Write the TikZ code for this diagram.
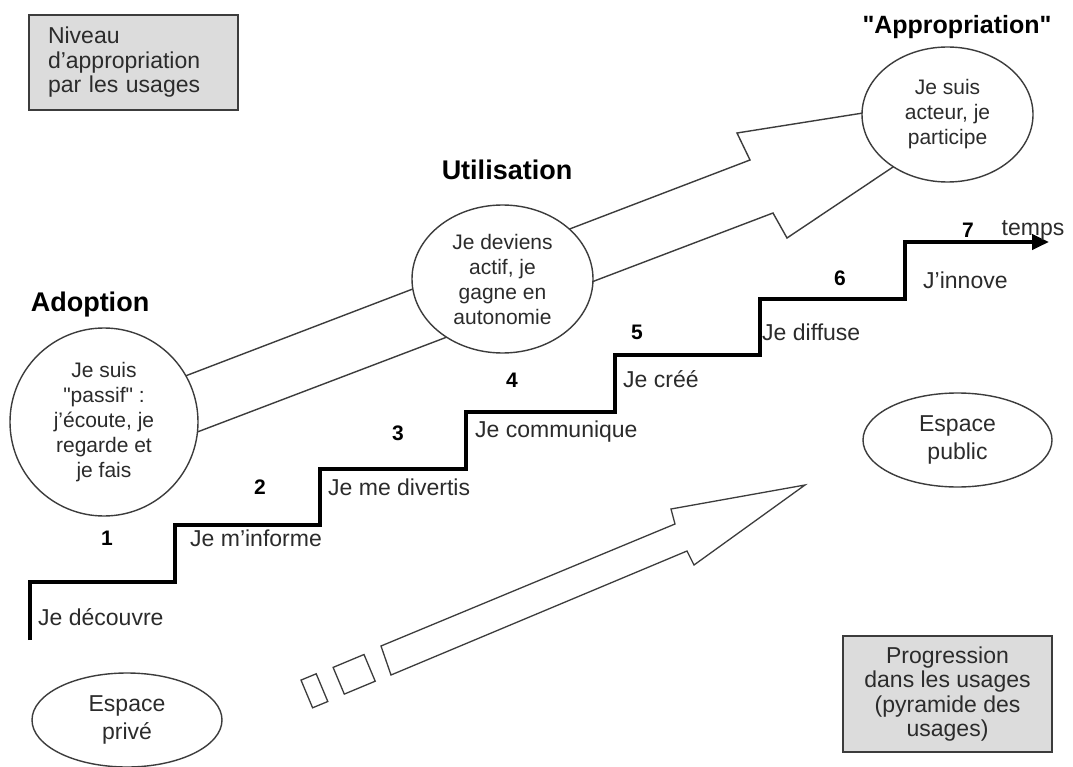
\documentclass[tikz,border=0pt]{standalone}
\usepackage{fontspec}
\setmainfont{Liberation Sans}
\usetikzlibrary{arrows.meta,shapes.geometric}
\definecolor{txt}{HTML}{2B2B2B}
\definecolor{ln}{HTML}{3C3C3C}
\definecolor{boxfill}{HTML}{DCDCDC}
\begin{document}
\begin{tikzpicture}[x=1pt,y=-1pt,
  lbl/.style={font=\fontsize{23}{27}\selectfont, text=txt, inner sep=0pt, anchor=west},
  num/.style={font=\fontsize{21}{25}\selectfont\bfseries, text=black, inner sep=0pt},
  ttl/.style={font=\fontsize{27}{32}\selectfont\bfseries, text=black, inner sep=0pt},
  bubble/.style={ellipse, draw=ln, line width=1.4pt, fill=white, inner sep=0pt, align=center, text=txt, font=\fontsize{21}{25}\selectfont},
  graybox/.style={rectangle, draw=ln, line width=2pt, fill=boxfill, font=\fontsize{23}{24.5}\selectfont, text=txt},
  blockarrow/.style={draw=ln, line width=1.4pt, fill=white, line join=miter},
  stair/.style={line width=4pt, draw=black, line join=miter, -{Triangle[length=17pt,width=15pt]}},
]
\useasboundingbox (0,0) rectangle (1073,767);
\fill[white] (0,0) rectangle (1073,767);

% big block arrow (behind the bubbles)
\draw[blockarrow] (150,389.5) -- (750,160) -- (737,133) -- (1008,90) -- (787,238) -- (773,213) -- (150,450) -- cycle;

% bubbles
\node[bubble, minimum width=188pt, minimum height=188pt] (adopt) at (104,422) {Je suis\\\textquotedbl passif\textquotedbl\ :\\j'écoute, je\\regarde et\\je fais};
\node[bubble, minimum width=181pt, minimum height=148pt] (util) at (502.5,279) {Je deviens\\actif, je\\gagne en\\autonomie};
\node[bubble, minimum width=171pt, minimum height=135pt] (appro) at (947.5,114.5) {Je suis\\acteur, je\\participe};
\node[bubble, font=\fontsize{23}{28}\selectfont, minimum width=189pt, minimum height=94pt] (public) at (957.5,440) {Espace\\public};
\node[bubble, font=\fontsize{23}{28}\selectfont, minimum width=190pt, minimum height=94pt] (prive) at (127,720) {Espace\\privé};

% titles
\node[ttl] (tadopt) at (90,305) {Adoption};
\node[ttl] (tutil) at (507,170) {Utilisation};
\node[ttl, font=\fontsize{25}{30}\selectfont\bfseries] (tappro) at (957,27) {\textquotedbl Appropriation\textquotedbl};

% boxes
\node[graybox, minimum width=209pt, minimum height=95pt, text width=171pt, inner xsep=19pt, inner ysep=0pt, align=left] (niveau) at (133.5,62.5) {Niveau\\d'appropriation\\par les usages};
\node[graybox, minimum width=209pt, minimum height=116pt, inner sep=0pt, align=center] (progr) at (947.5,694) {Progression\\dans les usages\\(pyramide des\\usages)};

% staircase
\coordinate (s0) at (30,640);
\coordinate (s1) at (175,582);
\coordinate (s2) at (320,525);
\coordinate (s3) at (466,469);
\coordinate (s4) at (615,412);
\coordinate (s5) at (760,355);
\coordinate (s6) at (905,299);
\coordinate (tend) at (1049,242);
\draw[stair] (s0) |- (s1) |- (s2) |- (s3) |- (s4) |- (s5) |- (s6) |- (tend);

% step labels
\node[lbl] (l1) at (38,617) {Je découvre};
\node[lbl] (l2) at (190,538) {Je m'informe};
\node[lbl] (l3) at (328,487) {Je me divertis};
\node[lbl] (l4) at (475,432) {Je communique};
\node[lbl] (l5) at (623,379) {Je créé};
\node[lbl] (l6) at (762,332) {Je diffuse};
\node[lbl] (l7) at (923,280) {J'innove};
\node[lbl, anchor=center] (temps) at (1033,230) {temps};

% step numbers
\node[num] (n1) at (107,538) {1};
\node[num] (n2) at (260,487) {2};
\node[num] (n3) at (398,433) {3};
\node[num] (n4) at (512,380) {4};
\node[num] (n5) at (637,332) {5};
\node[num] (n6) at (840,278) {6};
\node[num] (n7) at (968,230) {7};

% small arrow with dashes
\draw[blockarrow, line width=1.3pt] (381,646) -- (675,524) -- (671,509) -- (805,485) -- (694,565) -- (687,551) -- (391,675) -- cycle;
\draw[blockarrow, line width=1.3pt] (333.1,667.4) -- (364,654.5) -- (375.2,681.2) -- (344.3,694.1) -- cycle;
\draw[blockarrow, line width=1.3pt] (301,680.1) -- (316.2,673.8) -- (327.8,701.5) -- (312.6,707.8) -- cycle;
\end{tikzpicture}
\end{document}
